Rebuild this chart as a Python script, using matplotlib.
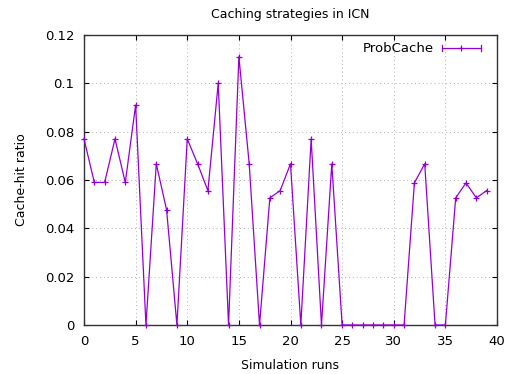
import matplotlib
matplotlib.use("Agg")
import matplotlib.pyplot as plt
from matplotlib.ticker import FuncFormatter

COLOR = "#9400D3"

runs = list(range(40))
hit_ratio = [
    0.077, 0.059, 0.059, 0.077, 0.059, 0.091, 0.0, 0.0667, 0.0476, 0.0,
    0.077, 0.0667, 0.0556, 0.1, 0.0, 0.111, 0.0667, 0.0, 0.0526, 0.0556,
    0.0667, 0.0, 0.077, 0.0, 0.0667, 0.0, 0.0, 0.0, 0.0, 0.0,
    0.0, 0.0, 0.0588, 0.0667, 0.0, 0.0, 0.0526, 0.0588, 0.0526, 0.0556,
]
x_ticks = [0, 5, 10, 15, 20, 25, 30, 35, 40]
y_ticks = [0, 0.02, 0.04, 0.06, 0.08, 0.1, 0.12]

fig = plt.figure(figsize=(5.10, 3.74), dpi=100)
ax = fig.add_axes([84 / 510, 1 - 325 / 374, (497 - 84) / 510, (325 - 35) / 374])

ax.plot(runs, hit_ratio, color=COLOR, linewidth=0.9, marker="+", markersize=5,
        markeredgewidth=0.9, clip_on=False, zorder=3)

ax.set_xlim(0, 40)
ax.set_ylim(0, 0.12)
ax.set_xticks(x_ticks)
ax.set_yticks(y_ticks)
ax.yaxis.set_major_formatter(FuncFormatter(lambda v, p: "%g" % round(v, 4)))
ax.tick_params(direction="in", top=True, right=True, length=3.6, width=0.8, labelsize=9.5, pad=7)
ax.grid(True, color="#b0b0b0", linestyle=(0, (1, 3)), linewidth=0.7)
for s in ax.spines.values():
    s.set_linewidth(1.0)
    s.set_color("#333333")

ax.set_title("Caching strategies in ICN", fontsize=9, pad=12)
ax.set_xlabel("Simulation runs", fontsize=9, labelpad=8)
ax.set_ylabel("Cache-hit ratio", fontsize=9, labelpad=12)

# gnuplot-style key at top right
ax.text(0.848, 0.955, "ProbCache", transform=ax.transAxes, ha="right", va="center", fontsize=9.5)
kx0, kx1, ky = 0.867, 0.961, 0.955
ax.plot([kx0, kx1], [ky, ky], color=COLOR, linewidth=0.9, transform=ax.transAxes, clip_on=False)
for kx in (kx0, kx1):
    ax.plot([kx, kx], [ky - 0.01, ky + 0.01], color=COLOR, linewidth=0.9, transform=ax.transAxes, clip_on=False)
ax.plot([(kx0 + kx1) / 2], [ky], color=COLOR, marker="+", markersize=5, markeredgewidth=0.9,
        transform=ax.transAxes, clip_on=False)

fig.savefig("out.png", dpi=100)
